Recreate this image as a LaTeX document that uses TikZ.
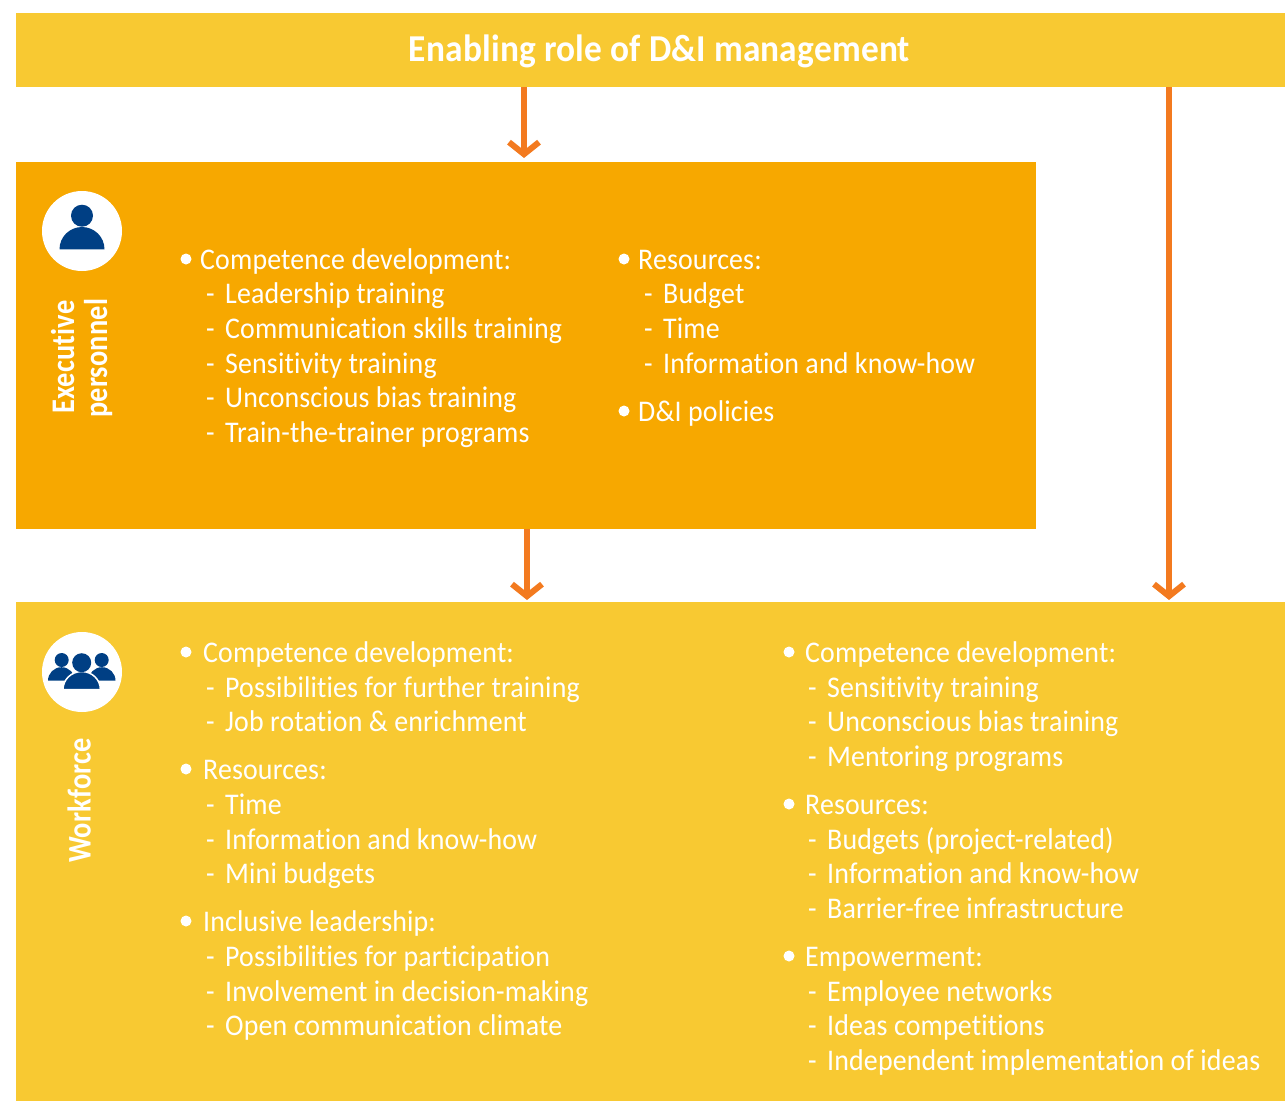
\documentclass[tikz,border=0pt]{standalone}
\usepackage{fontspec}
\setmainfont[Ligatures=NoCommon, FakeStretch=0.93, LetterSpace=0.5]{Carlito}
\usepackage{xcolor}
\usetikzlibrary{arrows.meta, positioning}
\definecolor{sunyellow}{HTML}{F8C932}
\definecolor{amber}{HTML}{F7A800}
\definecolor{flowred}{HTML}{F37A1F}
\definecolor{iconblue}{HTML}{003F84}
\newcommand{\dd}{-\hspace{4pt} }
\tikzset{
    band/.style={fill=#1, draw=none, anchor=north west, inner sep=0pt},
    flow/.style={draw=flowred, line width=5.3pt, -{Straight Barb[length=12pt,width=30pt,line width=6pt]}},
    lineitem/.style={anchor=base west, inner sep=0pt, text=white, font=\fontsize{30}{30}\selectfont},
    sidelabel/.style={anchor=base west, inner sep=0pt, rotate=90, text=white, font=\fontsize{33}{33}\selectfont\bfseries\addfontfeatures{FakeStretch=0.86}},
    bulletdot/.style={circle, fill=white, inner sep=0pt, minimum size=11pt},
    badge/.style={circle, fill=white, inner sep=0pt, minimum size=80pt},
    person/.style={fill=iconblue}
}

\begin{document}
\begin{tikzpicture}[x=1pt, y=-1pt]
    \useasboundingbox (0,0) rectangle (1285,1101);

    \node[band=sunyellow, minimum width=1269pt, minimum height=74pt] (mgmt) at (16,13) {};
    \node[band=amber, minimum width=1020pt, minimum height=367pt] (exec) at (16,162) {};
    \node[band=sunyellow, minimum width=1269pt, minimum height=499pt] (work) at (16,602) {};
    \node[anchor=base, inner sep=0pt, text=white, font=\fontsize{38}{38}\selectfont\bfseries] (title) at (659.5,61) {Enabling role of D\&I management};

    % arrows
    \coordinate (a1) at (524,0);
    \coordinate (a2) at (527,0);
    \coordinate (a3) at (1169,0);
    \draw[flow] (mgmt.south -| a1) -- ([yshift=4pt]exec.north -| a1);
    \draw[flow] (exec.south -| a2) -- ([yshift=2pt]work.north -| a2);
    \draw[flow] (mgmt.south -| a3) -- ([yshift=2pt]work.north -| a3);

    % icons
    \node[badge] (iconexec) at (82,231) {};
    \fill[person] (82,215.7) circle[radius=11];
    \fill[person] (59.5,249.3) arc[start angle=180, end angle=360, x radius=22.5, y radius=22.3] -- cycle;
    \node[badge] (iconwork) at (82,672) {};
    \fill[person] (61.7,660) circle[radius=7];
    \fill[person] (101.7,660) circle[radius=7];
    \fill[person] (48,680.7) arc[start angle=180, end angle=360, x radius=13.5, y radius=13.5] -- cycle;
    \fill[person] (88.5,680.7) arc[start angle=180, end angle=360, x radius=13.5, y radius=13.5] -- cycle;
    \fill[person, draw=white, line width=1.5pt] (63,689.5) arc[start angle=180, end angle=360, x radius=18.7, y radius=18] -- cycle;
    \fill[person] (81.7,662.7) circle[radius=9.5];

    % side labels
    \node[sidelabel] (l1) at (74,414) {Executive};
    \node[sidelabel] (l2) at (107,418) {personnel};
    \node[sidelabel] (l3) at (90.5,863) {Workforce};

    \foreach \x/\y [count=\i] in {186/259, 624/259, 624/411, 186/652, 186/769, 186/921, 789/652, 789/804, 789/956} {
        \node[bulletdot] (b\i) at (\x,\y) {};
    }

    \foreach \x/\y/\t [count=\i] in {
        200/269/Competence development:,
        206/303/\dd Leadership training,
        206/338/\dd Communication skills training,
        206/373/\dd Sensitivity training,
        206/407/\dd Unconscious bias training,
        206/442/\dd Train-the-trainer programs,
        638/269/Resources:,
        644/303/\dd Budget,
        644/338/\dd Time,
        644/373/\dd Information and know-how,
        638/421/D\&I policies,
        203/662/Competence development:,
        206/697/\dd Possibilities for further training,
        206/731/\dd Job rotation \& enrichment,
        203/779/Resources:,
        206/814/\dd Time,
        206/849/\dd Information and know-how,
        206/883/\dd Mini budgets,
        203/931/Inclusive leadership:,
        206/966/\dd Possibilities for participation,
        206/1001/\dd Involvement in decision-making,
        206/1035/\dd Open communication climate,
        805/662/Competence development:,
        808/697/\dd Sensitivity training,
        808/731/\dd Unconscious bias training,
        808/766/\dd Mentoring programs,
        805/814/Resources:,
        808/849/\dd Budgets (project-related),
        808/883/\dd Information and know-how,
        808/918/\dd Barrier-free infrastructure,
        805/966/Empowerment:,
        808/1001/\dd Employee networks,
        808/1035/\dd Ideas competitions,
        808/1070/\dd Independent implementation of ideas} {
        \node[lineitem] (t\i) at (\x,\y) {\t};
    }
\end{tikzpicture}
\end{document}
